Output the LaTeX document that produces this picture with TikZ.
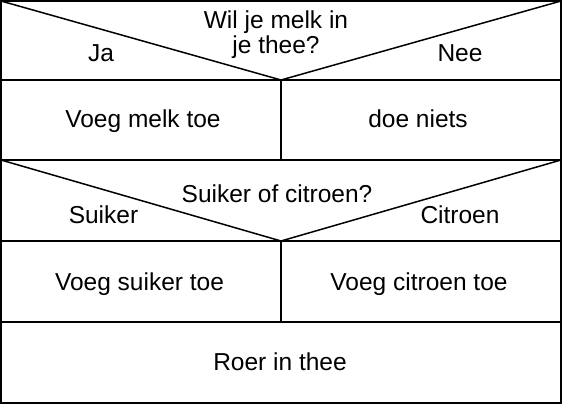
\documentclass[tikz,border=0pt]{standalone}
\usepackage{fontspec}
\setmainfont{Liberation Sans}
\begin{document}
\begin{tikzpicture}[x=1pt,y=-1pt,
  frame/.style={line width=1.7pt,line join=miter},
  lbl/.style={inner sep=0pt,anchor=base,font=\fontsize{24.5}{25}\selectfont}]
\useasboundingbox (0,0) rectangle (562,406);
\fill[white] (0,0) rectangle (562,406);
% corner coordinates
\coordinate (tl) at (1,1);
\coordinate (tr) at (561,1);
\coordinate (bl) at (1,403);
\coordinate (br) at (561,403);
\coordinate (c1) at (281,80);
\coordinate (c2) at (281,241);
\coordinate (l1) at (1,80);   \coordinate (r1) at (561,80);
\coordinate (l2) at (1,160);  \coordinate (r2) at (561,160);
\coordinate (m2) at (281,160);
\coordinate (l3) at (1,241);  \coordinate (r3) at (561,241);
\coordinate (l4) at (1,322);  \coordinate (r4) at (561,322);
\coordinate (m4) at (281,322);
% frame
\draw[frame] (tl) rectangle (br);
\draw[frame] (l1) -- (r1);
\draw[frame] (l2) -- (r2);
\draw[frame] (l3) -- (r3);
\draw[frame] (l4) -- (r4);
\draw[frame] (c1) -- (m2);
\draw[frame] (c2) -- (m4);
\draw[line width=1.5pt] (tl) -- (c1) -- (tr);
\draw[line width=1.5pt] (l2) -- (c2) -- (r2);
% texts
\node[lbl,anchor=center,align=center] (q1) at (276,34.5) {Wil je melk in\\je thee?};
\node[lbl] (ja) at (101,62) {Ja};
\node[lbl] (nee) at (460,62) {Nee};
\node[lbl] (melk) at (143,128) {Voeg melk toe};
\node[lbl] (niets) at (418,128) {doe niets};
\node[lbl] (q2) at (277,203) {Suiker of citroen?};
\node[lbl] (suiker) at (103.5,223) {Suiker};
\node[lbl] (citroen) at (460,223) {Citroen};
\node[lbl] (vsuiker) at (139.5,290) {Voeg suiker toe};
\node[lbl] (vcitroen) at (419,290) {Voeg citroen toe};
\node[lbl] (roer) at (280,370) {Roer in thee};
\end{tikzpicture}
\end{document}
